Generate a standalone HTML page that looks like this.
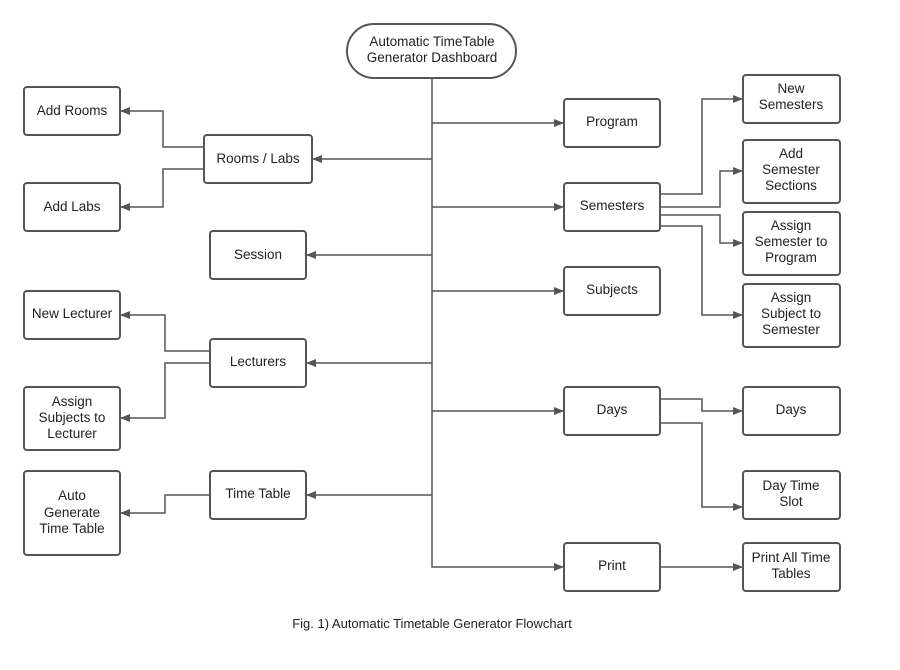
<!DOCTYPE html>
<html><head><meta charset="utf-8"><style>
html,body{margin:0;padding:0;background:#fff}
svg{display:block}
text{font-family:"Liberation Sans",sans-serif;font-size:13.5px;fill:#222;text-anchor:middle}
</style></head><body>
<svg width="900" height="670" viewBox="0 0 900 670">
<defs><marker id="a" markerWidth="10" markerHeight="8" refX="9" refY="4" orient="auto" markerUnits="userSpaceOnUse"><path d="M0,0 L10,4 L0,8 z" fill="#555"/></marker></defs>
<g fill="#fff" stroke="#555" stroke-width="2">
<rect x="347" y="24" width="169" height="54" rx="27"/>
<rect x="24" y="87" width="96" height="48" rx="3"/>
<rect x="24" y="183" width="96" height="48" rx="3"/>
<rect x="204" y="135" width="108" height="48" rx="3"/>
<rect x="210" y="231" width="96" height="48" rx="3"/>
<rect x="24" y="291" width="96" height="48" rx="3"/>
<rect x="210" y="339" width="96" height="48" rx="3"/>
<rect x="24" y="387" width="96" height="63" rx="3"/>
<rect x="210" y="471" width="96" height="48" rx="3"/>
<rect x="24" y="471" width="96" height="84" rx="3"/>
<rect x="564" y="99" width="96" height="48" rx="3"/>
<rect x="564" y="183" width="96" height="48" rx="3"/>
<rect x="564" y="267" width="96" height="48" rx="3"/>
<rect x="564" y="387" width="96" height="48" rx="3"/>
<rect x="564" y="543" width="96" height="48" rx="3"/>
<rect x="743" y="75" width="97" height="48" rx="3"/>
<rect x="743" y="140" width="97" height="63" rx="3"/>
<rect x="743" y="212" width="97" height="63" rx="3"/>
<rect x="743" y="284" width="97" height="63" rx="3"/>
<rect x="743" y="387" width="97" height="48" rx="3"/>
<rect x="743" y="471" width="97" height="48" rx="3"/>
<rect x="743" y="543" width="97" height="48" rx="3"/>
</g>
<g fill="none" stroke="#555" stroke-width="1.5" marker-end="url(#a)">
<path d="M432,78 V567 H563"/>
<path d="M432,123 H563"/><path d="M432,207 H563"/><path d="M432,291 H563"/><path d="M432,411 H563"/>
<path d="M432,159 H313"/><path d="M432,255 H307"/><path d="M432,363 H307"/><path d="M432,495 H307"/>
<path d="M204,147 H163 V111 H121"/><path d="M204,169 H163 V207 H121"/>
<path d="M210,351 H165 V315 H121"/><path d="M210,363 H165 V418 H121"/>
<path d="M210,495 H165 V513 H121"/>
<path d="M660,194 H702 V99 H742"/><path d="M660,207 H720 V171 H742"/>
<path d="M660,215 H720 V243 H742"/><path d="M660,226 H702 V315 H742"/>
<path d="M660,399 H702 V411 H742"/><path d="M660,423 H702 V507 H742"/>
<path d="M660,567 H742"/>
</g>
<text x="432" y="46">Automatic TimeTable</text><text x="432" y="62">Generator Dashboard</text>
<text x="72" y="115">Add Rooms</text>
<text x="72" y="211">Add Labs</text>
<text x="258" y="163">Rooms / Labs</text>
<text x="258" y="259">Session</text>
<text x="72" y="318">New Lecturer</text>
<text x="258" y="366">Lecturers</text>
<text x="72" y="406">Assign</text><text x="72" y="422">Subjects to</text><text x="72" y="438">Lecturer</text>
<text x="258" y="498">Time Table</text>
<text x="72" y="500">Auto</text><text x="72" y="517">Generate</text><text x="72" y="533">Time Table</text>
<text x="612" y="126">Program</text>
<text x="612" y="210">Semesters</text>
<text x="612" y="294">Subjects</text>
<text x="612" y="414">Days</text>
<text x="612" y="570">Print</text>
<text x="791" y="93">New</text><text x="791" y="109">Semesters</text>
<text x="791" y="158">Add</text><text x="791" y="174">Semester</text><text x="791" y="190">Sections</text>
<text x="791" y="230">Assign</text><text x="791" y="246">Semester to</text><text x="791" y="262">Program</text>
<text x="791" y="302">Assign</text><text x="791" y="318">Subject to</text><text x="791" y="334">Semester</text>
<text x="791" y="414">Days</text>
<text x="791" y="490">Day Time</text><text x="791" y="506">Slot</text>
<text x="791" y="562">Print All Time</text><text x="791" y="578">Tables</text>
<text x="432" y="628" style="font-size:13px">Fig. 1) Automatic Timetable Generator Flowchart</text>
</svg>
</body></html>
